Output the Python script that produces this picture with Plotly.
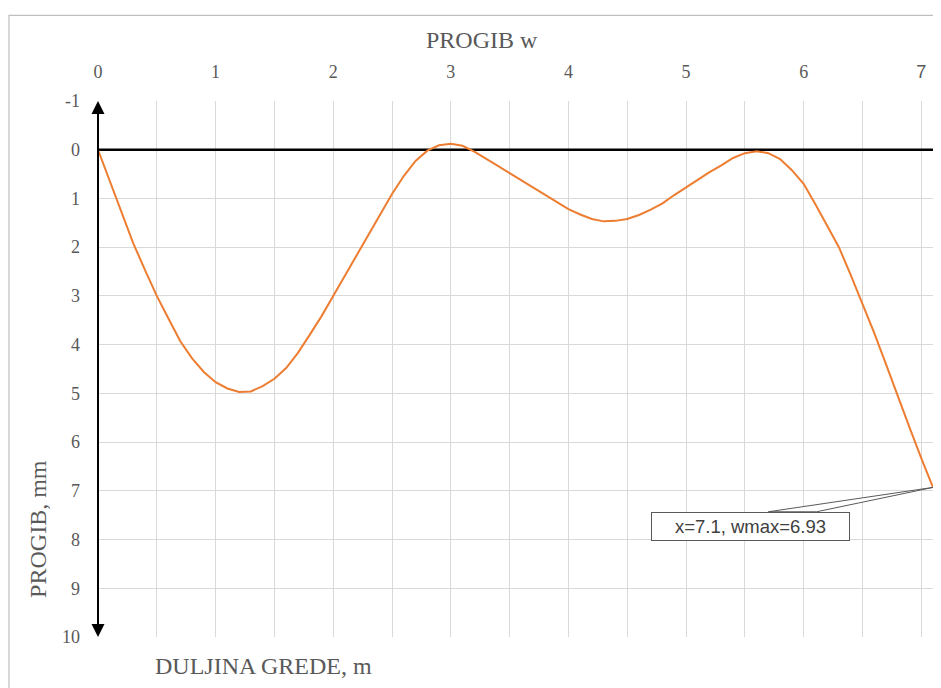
import plotly.graph_objects as go

# ---- data ----
x_m = [round(i * 0.1, 1) for i in range(72)]  # 0.0 .. 7.1 m
w_mm = [0.00, 0.64, 1.28, 1.92, 2.47, 3.00, 3.47, 3.93, 4.28, 4.56,
        4.77, 4.90, 4.97, 4.96, 4.85, 4.70, 4.48, 4.17, 3.80, 3.42,
        3.00, 2.58, 2.17, 1.75, 1.32, 0.91, 0.54, 0.23, 0.02, -0.09,
        -0.12, -0.08, 0.04, 0.18, 0.33, 0.48, 0.63, 0.77, 0.92, 1.08,
        1.22, 1.33, 1.42, 1.47, 1.46, 1.42, 1.34, 1.23, 1.10, 0.93,
        0.77, 0.62, 0.46, 0.32, 0.17, 0.07, 0.03, 0.07, 0.19, 0.42,
        0.70, 1.12, 1.55, 2.00, 2.57, 3.16, 3.76, 4.40, 5.06, 5.70,
        6.33, 6.93]
x_ticks = [0, 1, 2, 3, 4, 5, 6, 7]
x_ticktext = ["0", "1", "2", "3", "4", "5", "6",
              '<span style="font-family:Liberation Sans">7</span>']
y_ticks = list(range(-1, 11))
y_ticktext = [str(v) for v in y_ticks]  # plain hyphen for "-1"
callout_text = "x=7.1, wmax=6.93"

GRAY = "#595959"
GRID = "#d9d9d9"
SERIF = "Liberation Serif"

fig = go.Figure()

fig.add_trace(go.Scatter(
    x=x_m, y=w_mm, mode="lines",
    line=dict(color="#ED7D31", width=2),
    hoverinfo="skip", showlegend=False,
))

x_end, w_end = x_m[-1], w_mm[-1]

# horizontal black reference line at w = 0
fig.add_shape(type="line", xref="x", yref="y", x0=0, x1=x_end, y0=0, y1=0,
              line=dict(color="black", width=2.5), layer="between")

# vertical double arrow at x = 0 (overlapping tails, no gap)
fig.add_annotation(x=0, y=y_ticks[0], ax=0, ay=6, xref="x", yref="y",
                   axref="x", ayref="y", text="", showarrow=True,
                   arrowhead=2, arrowsize=1.3, arrowwidth=2, arrowcolor="black")
fig.add_annotation(x=0, y=y_ticks[-1], ax=0, ay=3, xref="x", yref="y",
                   axref="x", ayref="y", text="", showarrow=True,
                   arrowhead=2, arrowsize=1.3, arrowwidth=2, arrowcolor="black")

# callout wedge + box
box_cx, box_cy = 5.545, 7.73
box_top = 7.43
wa, wb = 5.70, 6.11
fig.add_shape(type="path", xref="x", yref="y",
              path=f"M {wa},{box_top} L {x_end},{w_end} L {wb},{box_top} Z",
              fillcolor="white", line=dict(color=GRAY, width=1), layer="above")
fig.add_annotation(x=box_cx, y=box_cy, xref="x", yref="y", text=callout_text,
                   showarrow=False, width=195, height=25, borderpad=1,
                   borderwidth=1, bordercolor=GRAY, bgcolor="white",
                   font=dict(family="Liberation Sans", size=18.5, color="#404040"))

# titles
fig.add_annotation(x=0.46, y=1.114, xref="paper", yref="paper", text="PROGIB w",
                   showarrow=False, xanchor="center", yanchor="middle",
                   font=dict(family=SERIF, size=24, color=GRAY))
fig.add_annotation(x=0.198, y=-0.054, xref="paper", yref="paper",
                   text="DULJINA GREDE, m", showarrow=False,
                   xanchor="center", yanchor="middle",
                   font=dict(family=SERIF, size=24, color=GRAY))
fig.add_annotation(x=-0.072, y=0.2015, xref="paper", yref="paper",
                   text="PROGIB, mm", textangle=-90, showarrow=False,
                   xanchor="center", yanchor="middle",
                   font=dict(family=SERIF, size=24, color=GRAY))

# outer chart border
fig.add_shape(type="rect", xref="paper", yref="paper",
              x0=-0.1066, x1=1.05, y0=-0.25, y1=1.1598,
              line=dict(color="#bfbfbf", width=1.2), fillcolor="rgba(0,0,0,0)",
              layer="below")

fig.update_xaxes(
    side="top", range=[0, x_end], tickvals=x_ticks, ticktext=x_ticktext,
    showgrid=True, gridcolor=GRID, gridwidth=1,
    minor=dict(dtick=0.5, showgrid=True, gridcolor=GRID, gridwidth=1),
    zeroline=False, showline=False, ticks="",
    tickfont=dict(family=SERIF, size=18, color=GRAY),
    ticklabelstandoff=18,
)
fig.update_yaxes(
    range=[y_ticks[-1], y_ticks[0]], tickvals=y_ticks, ticktext=y_ticktext,
    showgrid=True, gridcolor=GRID, gridwidth=1,
    zeroline=False, showline=False, ticks="",
    tickfont=dict(family=SERIF, size=18, color=GRAY),
    ticklabelstandoff=17,
)

fig.update_layout(
    width=941, height=688,
    margin=dict(l=90, r=16, t=93, b=59),
    plot_bgcolor="white", paper_bgcolor="white",
    showlegend=False,
)

fig.write_html("out.html")
